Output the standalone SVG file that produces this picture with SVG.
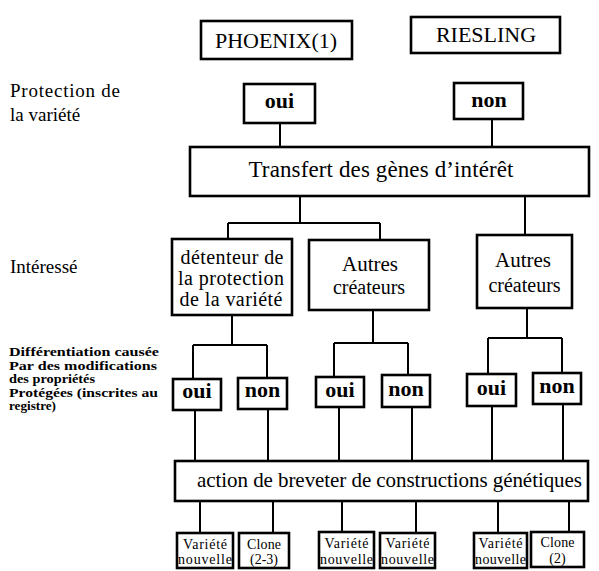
<svg xmlns="http://www.w3.org/2000/svg" width="599" height="571" viewBox="0 0 599 571">
<style>
.box{fill:#fff;stroke:#000;stroke-width:2.6}
.ln{fill:none;stroke:#000;stroke-width:2}
text{font-family:"Liberation Serif","Times New Roman",serif;fill:#000}
.c{text-anchor:middle}
.t22{font-size:22px}
.b22{font-size:22px;font-weight:bold}
.t21{font-size:20px}
.t20{font-size:20px}
.t15{font-size:14px}
.lab{font-size:19px}
.sm{font-size:12px;font-weight:bold}
</style>
<rect width="599" height="571" fill="#fff"/>

<g id="connectors">
<path class="ln" d="M280 123V148M492 119V147"/>
<path class="ln" d="M300 196V223M228 223H380M228 223V239M380 223V240"/>
<path class="ln" d="M525 196V235"/>
<path class="ln" d="M232 315V345M193 345H267M193 345V379M267 345V378"/>
<path class="ln" d="M373 310V343M334 343H408M334 343V377M408 343V375"/>
<path class="ln" d="M527 308V338M488 338H562M488 338V374M562 338V373"/>
<path class="ln" d="M195 410V461M268 409V461M339 407V461M412 407V461M492 406V461M563 404V461"/>
<path class="ln" d="M200 501V533M273 501V533M342 501V532M416 501V533M498 501V533M569 501V533"/>
</g>

<g id="labels">
<text class="lab" x="10" y="97" textLength="110">Protection de</text>
<text class="lab" x="10" y="121">la variété</text>
<text class="lab" x="10" y="273">Intéressé</text>
<text class="sm" x="9" y="356" textLength="150" lengthAdjust="spacingAndGlyphs">Différentiation causée</text>
<text class="sm" x="9" y="369.5" textLength="148" lengthAdjust="spacingAndGlyphs">Par des modifications</text>
<text class="sm" x="9" y="383" textLength="86" lengthAdjust="spacingAndGlyphs">des propriétés</text>
<text class="sm" x="9" y="396.5" textLength="149" lengthAdjust="spacingAndGlyphs">Protégées (inscrites au</text>
<text class="sm" x="9" y="410" textLength="47" lengthAdjust="spacingAndGlyphs">registre)</text>
</g>

<g id="phoenix"><rect class="box" x="201" y="21" width="151" height="38"/><text class="t22 c" x="276" y="48">PHOENIX(1)</text></g>
<g id="riesling"><rect class="box" x="411" y="17" width="149" height="36"/><text class="t22 c" x="486" y="42">RIESLING</text></g>

<g id="oui-top"><rect class="box" x="244" y="84" width="71" height="39"/><text class="b22 c" x="279.5" y="108">oui</text></g>
<g id="non-top"><rect class="box" x="454" y="83" width="69" height="36"/><text class="b22 c" x="489" y="107">non</text></g>

<g id="transfert"><rect class="box" x="190" y="147" width="399" height="49"/><text class="c" x="381" y="177" style="font-size:23px" textLength="265">Transfert des gènes d’intérêt</text></g>

<g id="detenteur"><rect class="box" x="172" y="239" width="120" height="76"/>
<text class="t21 c" x="232" y="264" textLength="103">détenteur de</text>
<text class="t21 c" x="231" y="285" textLength="106">la protection</text>
<text class="t21 c" x="231" y="306" textLength="103">de la variété</text></g>

<g id="autres1"><rect class="box" x="309" y="240" width="120" height="70"/>
<text class="t21 c" x="370" y="271" style="font-size:21px">Autres</text>
<text class="t20 c" x="369" y="294">créateurs</text></g>

<g id="autres2"><rect class="box" x="477" y="235" width="95" height="73"/>
<text class="t21 c" x="523" y="267" style="font-size:21px">Autres</text>
<text class="t20 c" x="524.5" y="292">créateurs</text></g>

<g id="oui1"><rect class="box" x="173" y="379" width="48" height="31"/><text class="b22 c" x="197" y="398">oui</text></g>
<g id="non1"><rect class="box" x="238" y="378" width="49" height="31"/><text class="b22 c" x="262.5" y="397">non</text></g>
<g id="oui2"><rect class="box" x="316" y="377" width="48" height="30"/><text class="b22 c" x="340" y="397">oui</text></g>
<g id="non2"><rect class="box" x="382" y="375" width="48" height="32"/><text class="b22 c" x="406" y="396">non</text></g>
<g id="oui3"><rect class="box" x="467" y="374" width="49" height="32"/><text class="b22 c" x="491.5" y="395">oui</text></g>
<g id="non3"><rect class="box" x="533" y="373" width="48" height="31"/><text class="b22 c" x="557" y="393">non</text></g>

<g id="action"><rect class="box" x="175" y="461" width="413" height="40"/><text class="t21 c" x="389.5" y="487" style="font-size:21px" textLength="385">action de breveter de constructions génétiques</text></g>

<g id="leaf1"><rect class="box" x="177" y="533" width="56" height="35"/><text class="t15 c" x="205" y="549" textLength="44">Variété</text><text class="t15 c" x="205" y="564" textLength="54">nouvelle</text></g>
<g id="leaf2"><rect class="box" x="239" y="533" width="50" height="35"/><text class="t15 c" x="264" y="549" textLength="34">Clone</text><text class="t15 c" x="264" y="564">(2-3)</text></g>
<g id="leaf3"><rect class="box" x="319" y="532" width="55" height="36"/><text class="t15 c" x="346.5" y="548" textLength="44">Variété</text><text class="t15 c" x="346.5" y="564" textLength="53">nouvelle</text></g>
<g id="leaf4"><rect class="box" x="380" y="533" width="55" height="35"/><text class="t15 c" x="407.5" y="548" textLength="44">Variété</text><text class="t15 c" x="407.5" y="564" textLength="53">nouvelle</text></g>
<g id="leaf5"><rect class="box" x="474" y="533" width="53" height="35"/><text class="t15 c" x="500.5" y="548" textLength="44">Variété</text><text class="t15 c" x="500.5" y="564" textLength="51">nouvelle</text></g>
<g id="leaf6"><rect class="box" x="531" y="532" width="53" height="35"/><text class="t15 c" x="557.5" y="547" textLength="34">Clone</text><text class="t15 c" x="557.5" y="563">(2)</text></g>
</svg>
